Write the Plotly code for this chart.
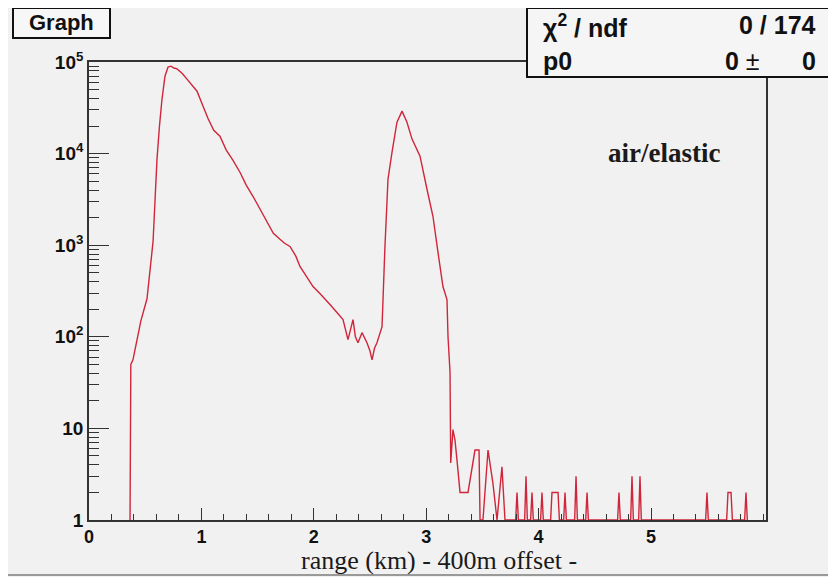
import plotly.graph_objects as go

# ---------------- data ----------------
# continuous part of the curve: range (km) and counts
range_km = [0.365, 0.372, 0.391, 0.418, 0.462, 0.516, 0.552, 0.570, 0.587, 0.605,
            0.627, 0.649, 0.676, 0.703, 0.730, 0.756, 0.783, 0.830, 0.872, 0.920,
            0.961, 1.014, 1.060, 1.110, 1.165, 1.220, 1.280, 1.343, 1.400, 1.460,
            1.521, 1.580, 1.640, 1.699, 1.740, 1.788, 1.840, 1.877, 1.930, 1.993,
            2.050, 2.100, 2.144, 2.206, 2.260, 2.304, 2.330, 2.349, 2.370, 2.393,
            2.429, 2.473, 2.500, 2.518, 2.540, 2.562, 2.607, 2.616, 2.633, 2.651,
            2.660, 2.696, 2.740, 2.785, 2.829, 2.874, 2.945, 3.007, 3.060, 3.105,
            3.149, 3.185, 3.194, 3.212, 3.218, 3.238, 3.256, 3.274, 3.301, 3.372,
            3.407, 3.434, 3.470, 3.479, 3.505, 3.550, 3.594, 3.630, 3.674, 3.701]
counts = [1, 50, 56, 80, 150, 260, 620, 1100, 3000, 8700,
          20000, 39000, 70000, 88000, 90000, 86000, 84000, 75000, 65000, 56000,
          48000, 33000, 24000, 18000, 15500, 11000, 8500, 6260, 4500, 3400,
          2470, 1800, 1350, 1160, 1050, 970, 760, 586, 470, 354,
          300, 260, 225, 184, 154, 93, 120, 154, 100, 86,
          111, 86, 70, 56, 75, 86, 129, 275, 970, 2940,
          5250, 10400, 22000, 29100, 22000, 14400, 9370, 4080, 2070, 834,
          354, 255, 100, 41, 4.2, 9.7, 7.5, 4.5, 2, 2,
          3.6, 5.8, 5.8, 1, 1, 5.8, 2.5, 1, 3.8, 1]

# isolated counts in the tail (single bins), range (km) and counts
tail_km = [3.808, 3.888, 3.941, 4.030, 4.119, 4.173, 4.235, 4.333, 4.431,
           4.715, 4.831, 4.902, 5.498, 5.685, 5.712, 5.845]
tail_counts = [2, 3, 2, 2, 2, 2, 2, 3, 2,
               2, 3, 3, 2, 2, 2, 2]
# pairs of adjacent tail bins drawn with a flat top
tail_flat_pairs = [(4.119, 4.173), (5.685, 5.712)]

x_ticks = [0, 1, 2, 3, 4, 5]
y_ticks = [1, 10, 100, 1000, 10000, 100000]
y_tick_text = ["1", "10", "10<sup>2</sup>", "10<sup>3</sup>", "10<sup>4</sup>", "10<sup>5</sup>"]

title_x = "range (km) - 400m offset -"
label_text = "air/elastic"
stats_rows = [("χ<sup>2</sup> / ndf", "0 / 174"), ("p0", "0 ±", "0")]

# ---------------- build the tail polyline from the tail bins ----------------
half_w = 0.012
xs = list(range_km)
ys = list(counts)
flat_starts = {a: b for a, b in tail_flat_pairs}
flat_ends = {b for a, b in tail_flat_pairs}
for xv, cv in zip(tail_km, tail_counts):
    if xv in flat_ends:
        xs += [xv, xv + half_w]
        ys += [cv, 1]
    elif xv in flat_starts:
        xs += [xv - half_w, xv]
        ys += [1, cv]
    else:
        xs += [xv - half_w, xv, xv + half_w]
        ys += [1, cv, 1]

# ---------------- figure ----------------
W, H = 836, 577          # window size
OFF = 8                  # page body margin in the browser
L, R, T, B = 89, 766, 62, 520   # plot frame in window pixels
BG = "#f1f1f1"
AX = "#333333"


def px(x):
    return (x - L) / (R - L)


def py(y):
    return (B - y) / (B - T)


fig = go.Figure()
fig.add_trace(go.Scatter(x=xs, y=ys, mode="lines",
                         line=dict(color="#d0253a", width=1.4),
                         hoverinfo="skip", showlegend=False))

minor_y = [k * 10 ** d for d in range(5) for k in range(2, 10)]

fig.update_layout(
    width=W - OFF, height=H - OFF,
    margin=dict(l=L - OFF, r=W - R, t=T - OFF, b=H - B, pad=0),
    paper_bgcolor=BG, plot_bgcolor=BG,
    showlegend=False,
    xaxis=dict(range=[0, (R - L) / 112.4], showgrid=False, zeroline=False,
               showline=True, linecolor=AX, linewidth=1.6, mirror=True,
               ticks="inside", ticklen=12, tickwidth=1.4, tickcolor=AX,
               tickvals=x_ticks, ticktext=[f"<b>{v}</b>" for v in x_ticks],
               tickfont=dict(family="Liberation Sans", size=18, color="#111"),
               minor=dict(ticks="inside", ticklen=6, tickwidth=1.2, tickcolor=AX,
                          dtick=0.2, tick0=0, showgrid=False)),
    yaxis=dict(type="log", range=[0, 5], showgrid=False, zeroline=False,
               showline=True, linecolor=AX, linewidth=1.6, mirror=True,
               ticks="inside", ticklen=20, tickwidth=1.4, tickcolor=AX,
               tickvals=y_ticks, ticktext=[f"<b>{t}</b>" for t in y_tick_text],
               tickfont=dict(family="Liberation Sans", size=19, color="#111"),
               minor=dict(ticks="inside", ticklen=10, tickwidth=1.2, tickcolor=AX,
                          tickvals=minor_y, showgrid=False)),
)

shapes = []
# "Graph" title box
shapes.append(dict(type="rect", xref="paper", yref="paper", layer="above",
                   x0=px(13), x1=px(110), y0=py(38), y1=py(8),
                   fillcolor="#f7f7f7", line=dict(color="#111", width=2)))
# statistics box
shapes.append(dict(type="rect", xref="paper", yref="paper", layer="above",
                   x0=px(527), x1=px(833), y0=py(77), y1=py(8),
                   fillcolor="#f5f5f5", line=dict(color="#111", width=2)))
# bottom edge line of the canvas
shapes.append(dict(type="line", xref="paper", yref="paper", layer="above",
                   x0=px(OFF), x1=px(W), y0=py(575), y1=py(575),
                   line=dict(color="#999", width=2)))
fig.update_layout(shapes=shapes)

ann = []
ann.append(dict(text="<b>Graph</b>", x=px(61.5), y=py(23), xref="paper", yref="paper",
                showarrow=False, xanchor="center", yanchor="middle",
                font=dict(family="Liberation Sans", size=22, color="#111")))
# stats rows
ann.append(dict(text="<b>" + stats_rows[0][0] + "</b>", x=px(541), y=py(26), xref="paper", yref="paper",
                showarrow=False, xanchor="left", yanchor="middle",
                font=dict(family="Liberation Sans", size=25, color="#111")))
ann.append(dict(text="<b>" + stats_rows[0][1] + "</b>", x=px(818), y=py(25), xref="paper", yref="paper",
                showarrow=False, xanchor="right", yanchor="middle",
                font=dict(family="Liberation Sans", size=25, color="#111")))
ann.append(dict(text="<b>" + stats_rows[1][0] + "</b>", x=px(541), y=py(61), xref="paper", yref="paper",
                showarrow=False, xanchor="left", yanchor="middle",
                font=dict(family="Liberation Sans", size=25, color="#111")))
ann.append(dict(text="<b>0</b> ±", x=px(762), y=py(61), xref="paper", yref="paper",
                showarrow=False, xanchor="right", yanchor="middle",
                font=dict(family="Liberation Sans", size=25, color="#111")))
ann.append(dict(text="<b>" + stats_rows[1][2] + "</b>", x=px(818), y=py(61), xref="paper", yref="paper",
                showarrow=False, xanchor="right", yanchor="middle",
                font=dict(family="Liberation Sans", size=25, color="#111")))
# x axis title
ann.append(dict(text=title_x, x=px(439), y=py(560), xref="paper", yref="paper",
                showarrow=False, xanchor="center", yanchor="middle",
                font=dict(family="Liberation Serif", size=26, color="#1a1a1a")))
# in-plot label
ann.append(dict(text="<b>" + label_text + "</b>", x=px(664), y=py(153), xref="paper", yref="paper",
                showarrow=False, xanchor="center", yanchor="middle",
                font=dict(family="Liberation Serif", size=27, color="#1a1a1a")))
fig.update_layout(annotations=ann)

fig.write_html("out.html")
